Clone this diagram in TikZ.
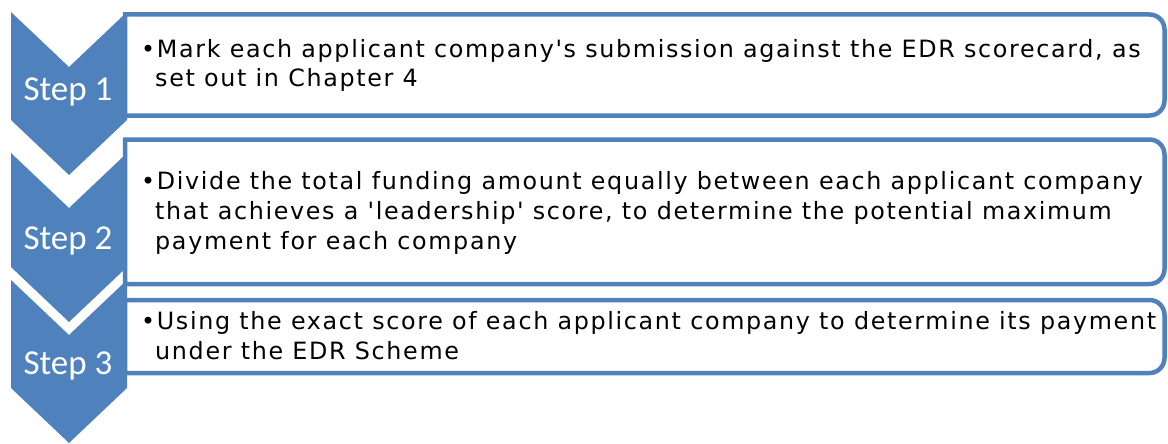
\documentclass[tikz,border=0pt]{standalone}
\usepackage{fontspec}
\newfontfamily\boxfont[LetterSpace=7]{DejaVu Sans}
\newfontfamily\stepfont{Carlito}
\definecolor{accent}{HTML}{4F81BD}
\tikzset{
  chev/.style={fill=accent, draw=none},
  listbox/.style={draw=accent, line width=4.5pt, fill=white},
  steplabel/.style={anchor=base, inner sep=0pt, text=white, font=\stepfont\fontsize{35}{40}\selectfont},
  itemtext/.style={anchor=base west, inner sep=0pt, align=left, text=black, font=\boxfont\fontsize{23.8}{29.8}\selectfont}
}
\begin{document}
\begin{tikzpicture}[x=1pt, y=1pt]
  \useasboundingbox (0,0) rectangle (1168,-444);

  % chevrons pointing down: top corners, notch, side ends, tip
  \path[chev] (11,-12) -- (69,-67) -- (127,-12) -- (127,-120) -- (69,-175) -- (11,-120) -- cycle;
  \path[chev] (11,-153) -- (69,-208) -- (127,-153) -- (127,-267) -- (69,-322) -- (11,-267) -- cycle;
  \path[chev] (11,-280) -- (69,-335) -- (127,-280) -- (127,-388) -- (69,-443) -- (11,-388) -- cycle;

  % list boxes, square on the left and rounded on the right
  \draw[listbox] (125,-14.5) -- (1149.5,-14.5) arc[start angle=90, end angle=0, radius=15]
     -- (1164.5,-100.5) arc[start angle=0, end angle=-90, radius=15] -- (125,-115.5) -- cycle;
  \draw[listbox] (125,-139.5) -- (1149.5,-139.5) arc[start angle=90, end angle=0, radius=15]
     -- (1164.5,-269) arc[start angle=0, end angle=-90, radius=15] -- (125,-284) -- cycle;
  \draw[listbox] (125,-300) -- (1149.5,-300) arc[start angle=90, end angle=0, radius=15]
     -- (1164.5,-358) arc[start angle=0, end angle=-90, radius=15] -- (125,-373) -- cycle;

  % step labels
  \node[steplabel] (s1) at (68,-100) {Step 1};
  \node[steplabel] (s2) at (68,-249) {Step 2};
  \node[steplabel] (s3) at (68,-374) {Step 3};

  % item texts (anchored at the baseline of the last line)
  \node[itemtext] (t1) at (141,-87) {•Mark each applicant company's submission against the EDR scorecard, as\\\phantom{•}set out in Chapter 4};
  \node[itemtext] (t2) at (141,-249) {•Divide the total funding amount equally between each applicant company\\\phantom{•}that achieves a 'leadership' score, to determine the potential maximum\\\phantom{•}payment for each company};
  \node[itemtext] (t3) at (141,-359) {•Using the exact score of each applicant company to determine its payment\\\phantom{•}under the EDR Scheme};
\end{tikzpicture}
\end{document}
